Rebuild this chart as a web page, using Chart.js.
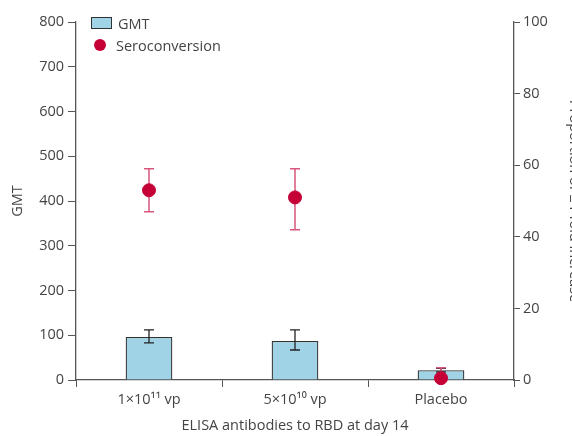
<!DOCTYPE html>
<html>
<head>
<meta charset="utf-8">
<script src="https://cdn.jsdelivr.net/npm/chart.js"></script>
<style>
    html, body { margin: 0; padding: 0; overflow: hidden; background: #fff; }
    #wrap { position: relative; width: 588px; height: 436px; }
    .legend { position: absolute; left: 91px; top: 12px; font: 14.5px "Open Sans", sans-serif; color: #444; }
    .legend div { height: 22px; display: flex; align-items: center; }
    .box { width: 19px; height: 10px; background: #9fd3e5; border: 1px solid #333; margin-right: 6px; }
    .dot { width: 12px; height: 12px; border-radius: 50%; background: #c40037; margin: 0 10px 0 3px; }
</style>
</head>
<body>
<div id="wrap">
    <canvas id="chart" width="588" height="436"></canvas>
    <div class="legend">
        <div><span class="box"></span>GMT</div>
        <div><span class="dot"></span>Seroconversion</div>
    </div>
</div>
<script>
    // -----------------------------
    // Daten
    // -----------------------------
    const categories = ["1×10¹¹ vp", "5×10¹⁰ vp", "Placebo"];
    const gmt = [96, 87, 22];
    const gmtLow = [83, 67, 18];
    const gmtHigh = [112, 112, 26];
    const sero = [53, 51, 0.5];
    const seroLow = [47, 42, 0];
    const seroHigh = [59, 59, 3.4];
    const gmtTicks = [0, 100, 200, 300, 400, 500, 600, 700, 800];
    const seroTicks = [0, 20, 40, 60, 80, 100];

    const axisColor = "#555";
    const textColor = "#444";
    const font = { family: "'Open Sans', sans-serif", size: 14.5 };

    // -----------------------------
    // Fehlerbalken
    // -----------------------------
    function drawErrors(chart, index, yScaleId, low, high, color, width) {
        const ctx = chart.ctx;
        const meta = chart.getDatasetMeta(index);
        const yScale = chart.scales[yScaleId];
        ctx.save();
        ctx.strokeStyle = color;
        ctx.lineWidth = width;
        meta.data.forEach((el, i) => {
            const x = el.x;
            const yl = yScale.getPixelForValue(low[i]);
            const yh = yScale.getPixelForValue(high[i]);
            ctx.beginPath();
            ctx.moveTo(x, yl); ctx.lineTo(x, yh);
            ctx.moveTo(x - 5, yl); ctx.lineTo(x + 5, yl);
            ctx.moveTo(x - 5, yh); ctx.lineTo(x + 5, yh);
            ctx.stroke();
        });
        ctx.restore();
    }

    const errorBars = {
        id: "errorBars",
        afterDatasetDraw(chart, args) {
            if (args.index === 0) drawErrors(chart, 0, "y", gmtLow, gmtHigh, "#222", 1.3);
        },
        beforeDatasetDraw(chart, args) {
            if (args.index === 1) drawErrors(chart, 1, "y1", seroLow, seroHigh, "#d8577c", 1.5);
        }
    };

    new Chart(document.getElementById("chart"), {
        data: {
            labels: categories,
            datasets: [{
                type: "bar",
                data: gmt,
                yAxisID: "y",
                backgroundColor: "#9fd3e5",
                borderColor: "#333",
                borderWidth: 1.3,
                categoryPercentage: 1,
                barPercentage: 0.32,
                order: 2
            }, {
                type: "line",
                data: sero,
                yAxisID: "y1",
                showLine: false,
                pointRadius: 6.5,
                pointBackgroundColor: "#c40037",
                pointBorderColor: "#c40037",
                clip: false,
                order: 1
            }]
        },
        options: {
            responsive: false,
            animation: false,
            devicePixelRatio: 1,
            layout: { padding: { top: 22, left: 0, right: 0, bottom: 0 } },
            plugins: {
                legend: { display: false },
                tooltip: { enabled: false }
            },
            scales: {
                x: {
                    afterFit: (s) => { s.height = 56; },
                    grid: { drawOnChartArea: false, tickLength: 7, color: axisColor },
                    border: { color: axisColor, width: 1.3 },
                    ticks: { color: textColor, font: font, padding: 4 },
                    title: {
                        display: true,
                        text: "ELISA antibodies to RBD at day 14",
                        color: textColor,
                        font: font,
                        padding: { top: 0, bottom: 1 }
                    }
                },
                y: {
                    position: "left",
                    min: 0,
                    max: 800,
                    afterFit: (s) => { s.width = 76; },
                    afterBuildTicks: (s) => { s.ticks = gmtTicks.map(v => ({ value: v })); },
                    grid: { drawOnChartArea: false, tickLength: 8, color: axisColor },
                    border: { color: axisColor, width: 1.3 },
                    ticks: { color: textColor, font: font, padding: 4 },
                    title: {
                        display: true,
                        text: "GMT",
                        color: textColor,
                        font: font,
                        padding: { top: 9, bottom: 0 }
                    }
                },
                y1: {
                    position: "right",
                    min: 0,
                    max: 100,
                    afterFit: (s) => { s.width = 74; },
                    afterBuildTicks: (s) => { s.ticks = seroTicks.map(v => ({ value: v })); },
                    grid: { drawOnChartArea: false, tickLength: 6, color: axisColor },
                    border: { color: axisColor, width: 1.3 },
                    ticks: { color: textColor, font: font, padding: 3 },
                    title: {
                        display: true,
                        text: "Proportion of ≥4-fold increase",
                        color: textColor,
                        font: font,
                        padding: { top: 5, bottom: 0 }
                    }
                }
            }
        },
        plugins: [errorBars]
    });
</script>
</body>
</html>
